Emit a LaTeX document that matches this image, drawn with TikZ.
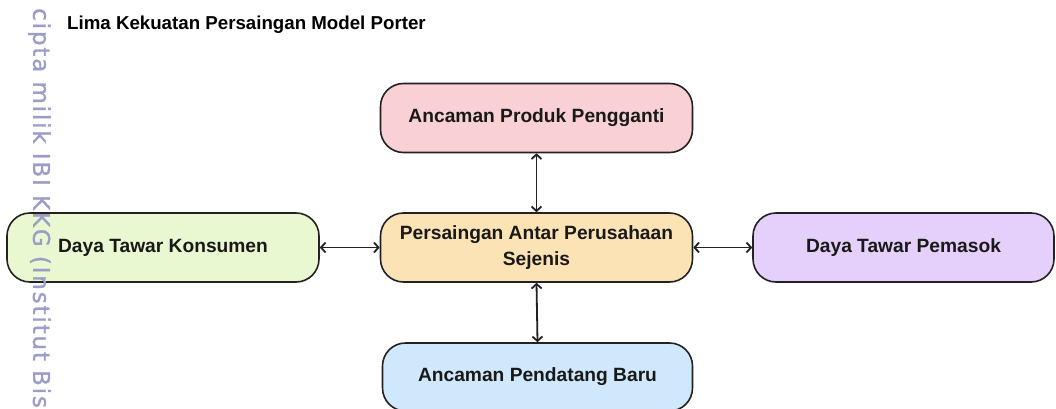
\documentclass[tikz,border=0pt]{standalone}
\usepackage{fontspec}
\setmainfont{Liberation Sans}
\newfontfamily\wmfont[LetterSpace=8,FakeBold=1.2]{DejaVu Sans}
\usetikzlibrary{arrows.meta}
\definecolor{bxpink}{HTML}{F9D0D4}
\definecolor{bxorange}{HTML}{FCE3B6}
\definecolor{bxblue}{HTML}{D0E8FB}
\definecolor{bxgreen}{HTML}{E9F8D1}
\definecolor{bxpurple}{HTML}{E4D0FA}
\definecolor{bxline}{HTML}{222222}
\definecolor{wmcol}{HTML}{9C9CC8}
\tikzset{
  forcebox/.style={draw=bxline, line width=1.6pt, rounded corners=23pt,
    minimum height=69pt, inner sep=0pt, align=center,
    font=\fontsize{19.2}{26.5}\selectfont\bfseries, text=black!90},
  biarrow/.style={draw=bxline, line width=1.8pt,
    {Straight Barb[length=4.5pt,width=10pt]}-{Straight Barb[length=4.5pt,width=10pt]}}
}
\begin{document}
\begin{tikzpicture}[x=1pt,y=-1pt]
\useasboundingbox (0,0) rectangle (1056,409);
\begin{scope}
\clip (0,0) rectangle (1056,409);
% title
\node[anchor=base west, font=\fontsize{18.7}{22}\selectfont\bfseries, inner sep=0pt] (title) at (67,30) {Lima Kekuatan Persaingan Model Porter};
% boxes
\node[forcebox, fill=bxpink, minimum width=312pt] (sub) at (536.5,118) {Ancaman Produk Pengganti};
\node[forcebox, fill=bxorange, minimum width=312pt] (rival) at (536.5,247.5) {Persaingan Antar Perusahaan\\Sejenis};
\node[forcebox, fill=bxblue, minimum width=310pt, minimum height=68pt] (entry) at (537.5,377) {Ancaman Pendatang Baru};
\node[forcebox, fill=bxgreen, minimum width=312pt] (buyer) at (163,247.5) {Daya Tawar Konsumen};
\node[forcebox, fill=bxpurple, minimum width=301pt] (supplier) at (903.5,247.5) {Daya Tawar Pemasok};
% connectors
\draw[biarrow] (sub.south) -- (rival.north);
\draw[biarrow] (rival.south) -- (entry.north);
\draw[biarrow] (buyer.east) -- (rival.west);
\draw[biarrow] (rival.east) -- (supplier.west);
% watermark
\node[rotate=-90, anchor=west, inner sep=0pt, text=wmcol, font=\wmfont\fontsize{23}{26}\selectfont] (wm) at (39.5,8) {cipta milik IBI KKG (Institut Bis};
\end{scope}
\end{tikzpicture}
\end{document}
